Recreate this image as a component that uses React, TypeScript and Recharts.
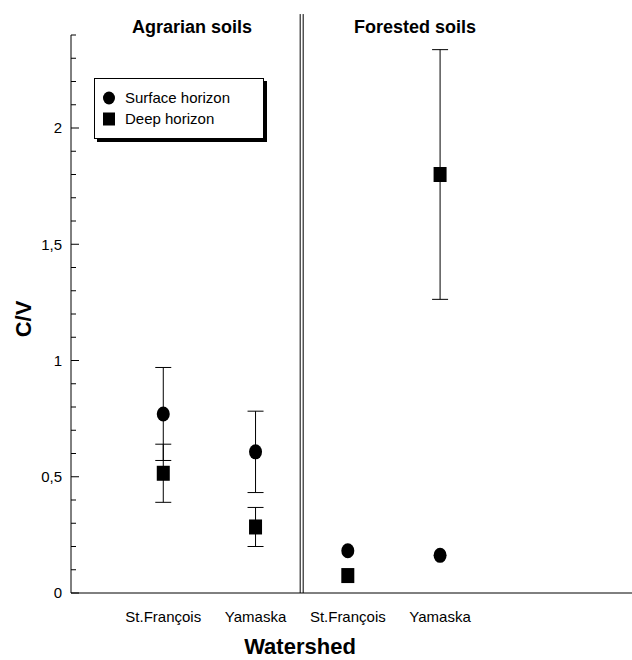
import {
  ScatterChart,
  Scatter,
  XAxis,
  YAxis,
  ErrorBar,
  ReferenceLine,
} from 'recharts'

const FONT = '"Liberation Sans", Arial, sans-serif'

const categories = ['St.François', 'Yamaska', 'St.François', 'Yamaska']
const groups = ['Agrarian soils', 'Forested soils']
const xPos = [1, 2, 3, 4]
const divider = 2.5

const surfaceMean = [0.77, 0.607, 0.182, 0.162]
const surfaceErr = [0.2, 0.175, 0, 0]
const deepMean = [0.515, 0.284, 0.075, 1.8]
const deepErr = [0.125, 0.084, 0, 0.537]

const yTicks = [0, 0.1, 0.2, 0.3, 0.4, 0.5, 0.6, 0.7, 0.8, 0.9, 1, 1.1, 1.2, 1.3, 1.4, 1.5, 1.6, 1.7, 1.8, 1.9, 2, 2.1, 2.2, 2.3, 2.4]
const yMajor = [0, 0.5, 1, 1.5, 2]

const surfaceData = xPos.map((x, i) => ({ x, y: surfaceMean[i], err: surfaceErr[i] }))
const deepData = xPos.map((x, i) => ({ x, y: deepMean[i], err: deepErr[i] }))

function YTick(props: any) {
  const { x, y, payload } = props
  const major = yMajor.some(m => Math.abs(m - payload.value) < 1e-6)
  return (
    <g>
      <line x1={x} x2={x + (major ? 8 : 5)} y1={y} y2={y} stroke="#000" strokeWidth={1} />
      {major && (
        <text x={x - 9} y={y} dy="0.36em" textAnchor="end" fontSize={15} fontFamily={FONT} fill="#000">
          {String(payload.value).replace('.', ',')}
        </text>
      )}
    </g>
  )
}

function Circle(props: any) {
  const { cx, cy } = props
  return <ellipse cx={cx} cy={cy} rx={6.5} ry={7.5} fill="#000" />
}

function Square(props: any) {
  const { cx, cy } = props
  return <rect x={cx - 6.5} y={cy - 7.5} width={13} height={15} fill="#000" />
}

function DoubleLine(props: any) {
  const { x1, y1, x2, y2 } = props
  return (
    <g>
      <line x1={x1 - 1.5} x2={x2 - 1.5} y1={y1} y2={y2} stroke="#000" strokeWidth={1} />
      <line x1={x1 + 1.5} x2={x2 + 1.5} y1={y1} y2={y2} stroke="#000" strokeWidth={1} />
    </g>
  )
}

export default function App() {
  return (
    <div style={{ position: 'absolute', left: 0, top: 0, width: 632, height: 660, background: '#fff', fontFamily: FONT }}>
      <ScatterChart width={632} height={660} margin={{ top: 35, right: 0, bottom: 37, left: 0 }}>
        <XAxis
          type="number"
          dataKey="x"
          domain={[0, 6.08]}
          ticks={xPos}
          tickFormatter={(v: number) => categories[v - 1]}
          axisLine={{ stroke: '#000' }}
          tickLine={false}
          tickSize={0}
          tickMargin={18}
          height={30}
          tick={{ fontSize: 15, fill: '#000', fontFamily: FONT }}
        />
        <YAxis
          type="number"
          dataKey="y"
          domain={[0, 2.4]}
          ticks={yTicks}
          interval={0}
          width={71}
          axisLine={{ stroke: '#000' }}
          tickLine={false}
          tickSize={0}
          tickMargin={0}
          tick={<YTick />}
        />
        <ReferenceLine
          segment={[{ x: divider, y: 0 }, { x: divider, y: 2.49 }]}
          ifOverflow="visible"
          shape={<DoubleLine />}
        />
        <Scatter data={surfaceData} shape={<Circle />} isAnimationActive={false}>
          <ErrorBar dataKey="err" direction="y" width={8} stroke="#000" strokeWidth={1} />
        </Scatter>
        <Scatter data={deepData} shape={<Square />} isAnimationActive={false}>
          <ErrorBar dataKey="err" direction="y" width={8} stroke="#000" strokeWidth={1} />
        </Scatter>
      </ScatterChart>

      {/* group titles */}
      <div style={{ position: 'absolute', left: 192, top: 18, transform: 'translateX(-50%)', fontSize: 18, fontWeight: 'bold', lineHeight: 1, whiteSpace: 'nowrap' }}>
        {groups[0]}
      </div>
      <div style={{ position: 'absolute', left: 415, top: 18, transform: 'translateX(-50%)', fontSize: 18, fontWeight: 'bold', lineHeight: 1, whiteSpace: 'nowrap' }}>
        {groups[1]}
      </div>

      {/* axis titles */}
      <div style={{ position: 'absolute', left: 24, top: 319, transform: 'translate(-50%, -50%) rotate(-90deg)', fontSize: 22, fontWeight: 'bold', lineHeight: 1, whiteSpace: 'nowrap' }}>
        C/V
      </div>
      <div style={{ position: 'absolute', left: 300, top: 636, transform: 'translateX(-50%)', fontSize: 22, fontWeight: 'bold', lineHeight: 1, whiteSpace: 'nowrap' }}>
        Watershed
      </div>

      {/* legend */}
      <div style={{ position: 'absolute', left: 94, top: 78, width: 168, height: 59, border: '1px solid #000', background: '#fff', boxShadow: '3px 3px 0 #000', fontSize: 15, lineHeight: 1 }}>
        <div style={{ position: 'absolute', left: 7, top: 11, display: 'flex', alignItems: 'center' }}>
          <svg width={14} height={14}><ellipse cx={7} cy={7} rx={6} ry={6.5} fill="#000" /></svg>
          <span style={{ marginLeft: 9 }}>Surface horizon</span>
        </div>
        <div style={{ position: 'absolute', left: 7, top: 32, display: 'flex', alignItems: 'center' }}>
          <svg width={14} height={14}><rect x={1} y={0.5} width={12} height={13} fill="#000" /></svg>
          <span style={{ marginLeft: 9 }}>Deep horizon</span>
        </div>
      </div>
    </div>
  )
}
